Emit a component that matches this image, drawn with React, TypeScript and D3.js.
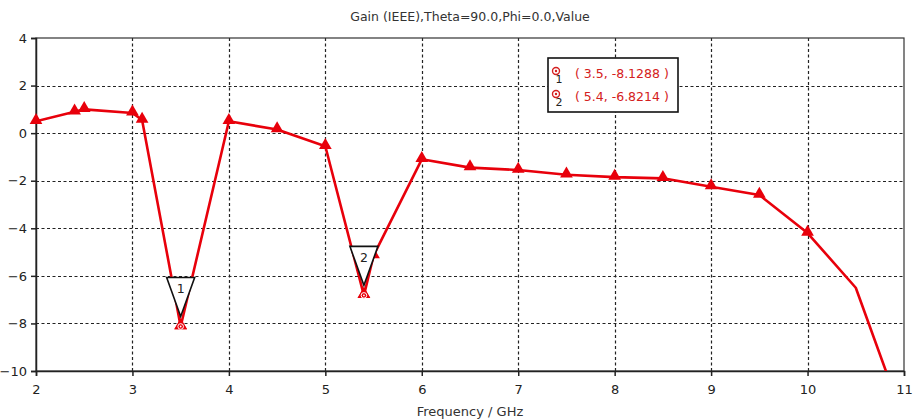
import React, { useEffect, useRef } from 'react';
import * as d3 from 'd3';

// frequency samples (GHz) and gain (dB)
const freq = [2, 2.4, 2.5, 3, 3.1, 3.5, 4, 4.5, 5, 5.4, 5.5, 6, 6.5, 7, 7.5, 8, 8.5, 9, 9.5, 10, 10.5, 11];
const gain = [0.5, 0.9, 1.0, 0.85, 0.55, -8.1288, 0.5, 0.15, -0.55, -6.8214, -5.15, -1.1, -1.45, -1.55, -1.75, -1.85, -1.9, -2.25, -2.6, -4.2, -6.5, -12.1];
// which samples get a triangle symbol
const hasSymbol = [1, 1, 1, 1, 1, 1, 1, 1, 1, 1, 1, 1, 1, 1, 1, 1, 1, 1, 1, 1, 0, 0];

const xTicks = [2, 3, 4, 5, 6, 7, 8, 9, 10, 11];
const yTicks = [4, 2, 0, -2, -4, -6, -8, -10];

const markerNames = ['1', '2'];
const markerX = [3.5, 5.4];
const markerY = [-8.1288, -6.8214];

const title = 'Gain (IEEE),Theta=90.0,Phi=0.0,Value';
const xLabel = 'Frequency / GHz';

export default function App() {
  const ref = useRef<SVGSVGElement>(null);

  useEffect(() => {
    const width = 916;
    const height = 420;
    const left = 36, right = 904, top = 38, bottom = 371;
    const font = "'DejaVu Sans', Verdana, sans-serif";
    const red = '#e8000b';

    const svg = d3.select(ref.current);
    svg.selectAll('*').remove();
    svg.attr('width', width).attr('height', height);

    const x = d3.scaleLinear().domain([2, 11]).range([left, right]);
    const y = d3.scaleLinear().domain([-10, 4]).range([bottom, top]);

    const data = freq.map((f, i) => ({ f, g: gain[i], s: hasSymbol[i] }));

    svg.append('rect').attr('width', width).attr('height', height).attr('fill', 'white');

    // title
    svg.append('text')
      .attr('x', 470).attr('y', 21)
      .attr('text-anchor', 'middle')
      .attr('font-family', font).attr('font-size', 12.5)
      .attr('fill', '#333')
      .text(title);

    // grid
    const grid = svg.append('g').attr('stroke', '#222').attr('stroke-width', 1.2).attr('stroke-dasharray', '3,2.5');
    grid.selectAll('line.v').data(xTicks.filter(t => t > 2 && t < 11)).join('line')
      .attr('x1', d => Math.round(x(d)) + 0.5).attr('x2', d => Math.round(x(d)) + 0.5)
      .attr('y1', top).attr('y2', bottom);
    grid.selectAll('line.h').data(yTicks.filter(t => t > -10 && t < 4)).join('line')
      .attr('class', 'h')
      .attr('x1', left).attr('x2', right)
      .attr('y1', d => Math.round(y(d)) + 0.5).attr('y2', d => Math.round(y(d)) + 0.5);

    // frame
    svg.append('rect')
      .attr('x', left).attr('y', top).attr('width', right - left).attr('height', bottom - top)
      .attr('fill', 'none').attr('stroke', '#333').attr('stroke-width', 1.2);

    // axes
    const yAxis = svg.append('g')
      .attr('transform', `translate(${left},0)`)
      .call(d3.axisLeft(y).tickValues(yTicks).tickSize(5).tickPadding(4).tickFormat(d3.format('d')));
    yAxis.select('.domain').attr('stroke', '#222').attr('stroke-width', 1.5);
    yAxis.selectAll('line').attr('stroke', '#222').attr('stroke-width', 1.5);
    yAxis.selectAll('text').attr('font-family', font).attr('font-size', 13).attr('fill', '#222');

    const xAxis = svg.append('g')
      .attr('transform', `translate(0,${bottom})`)
      .call(d3.axisBottom(x).tickValues(xTicks).tickSize(5).tickPadding(9).tickFormat(d3.format('d')));
    xAxis.select('.domain').attr('stroke', '#222').attr('stroke-width', 1.5);
    xAxis.selectAll('line').attr('stroke', '#222').attr('stroke-width', 1.5);
    xAxis.selectAll('text').attr('font-family', font).attr('font-size', 13).attr('fill', '#222');

    svg.append('text')
      .attr('x', 470).attr('y', 416)
      .attr('text-anchor', 'middle')
      .attr('font-family', font).attr('font-size', 13)
      .attr('fill', '#333')
      .text(xLabel);

    // curve
    svg.append('defs').append('clipPath').attr('id', 'plotclip')
      .append('rect').attr('x', left).attr('y', top).attr('width', right - left).attr('height', bottom - top);

    const line = d3.line<{ f: number; g: number }>().x(d => x(d.f)).y(d => y(d.g));
    svg.append('path')
      .datum(data)
      .attr('clip-path', 'url(#plotclip)')
      .attr('fill', 'none')
      .attr('stroke', red)
      .attr('stroke-width', 2.6)
      .attr('stroke-linejoin', 'round')
      .attr('d', line);

    // triangle symbols
    const tri = d3.symbol().type(d3.symbolTriangle).size(70);
    svg.append('g').selectAll('path').data(data.filter(d => d.s)).join('path')
      .attr('transform', d => `translate(${x(d.f)},${y(d.g) - 1})`)
      .attr('d', tri)
      .attr('fill', red);

    // marker flags (inverted triangles with numbers)
    const mk = svg.append('g');
    markerX.forEach((mx, i) => {
      const px = x(mx);
      const py = y(markerY[i]);
      const tipY = py - 10;
      const topY = tipY - 39;
      mk.append('path')
        .attr('d', `M${px - 14},${topY}L${px + 14},${topY}L${px},${tipY}Z`)
        .attr('fill', 'white').attr('stroke', '#111').attr('stroke-width', 1.6);
      mk.append('text')
        .attr('x', px).attr('y', topY + 16)
        .attr('text-anchor', 'middle')
        .attr('font-family', font).attr('font-size', 12.5)
        .attr('fill', '#222')
        .text(markerNames[i]);
      // symbol at the marked point
      mk.append('path')
        .attr('transform', `translate(${px},${py - 1})`)
        .attr('d', tri).attr('fill', red);
      mk.append('circle').attr('cx', px).attr('cy', py).attr('r', 2.8)
        .attr('fill', red).attr('stroke', 'white').attr('stroke-width', 1);
      mk.append('circle').attr('cx', px).attr('cy', py).attr('r', 0.9).attr('fill', 'white');
    });

    // marker readout box
    const box = svg.append('g');
    box.append('rect')
      .attr('x', 548).attr('y', 58).attr('width', 130).attr('height', 54)
      .attr('fill', 'white').attr('stroke', '#111').attr('stroke-width', 1.6);
    markerX.forEach((mx, i) => {
      const cy = 71 + i * 23;
      box.append('circle').attr('cx', 556).attr('cy', cy).attr('r', 3.5)
        .attr('fill', 'white').attr('stroke', '#d42020').attr('stroke-width', 1.4);
      box.append('circle').attr('cx', 556).attr('cy', cy).attr('r', 1.2).attr('fill', '#d42020');
      box.append('text')
        .attr('x', 559).attr('y', cy + 12)
        .attr('text-anchor', 'middle')
        .attr('font-family', font).attr('font-size', 11)
        .attr('fill', '#222')
        .text(markerNames[i]);
      box.append('text')
        .attr('x', 575).attr('y', cy + 7)
        .attr('font-family', font).attr('font-size', 12.5)
        .attr('fill', '#d42020')
        .text(`( ${mx}, ${markerY[i]} )`);
    });
  }, []);

  return <svg ref={ref} style={{ position: 'absolute', left: 0, top: 0 }}></svg>;
}
